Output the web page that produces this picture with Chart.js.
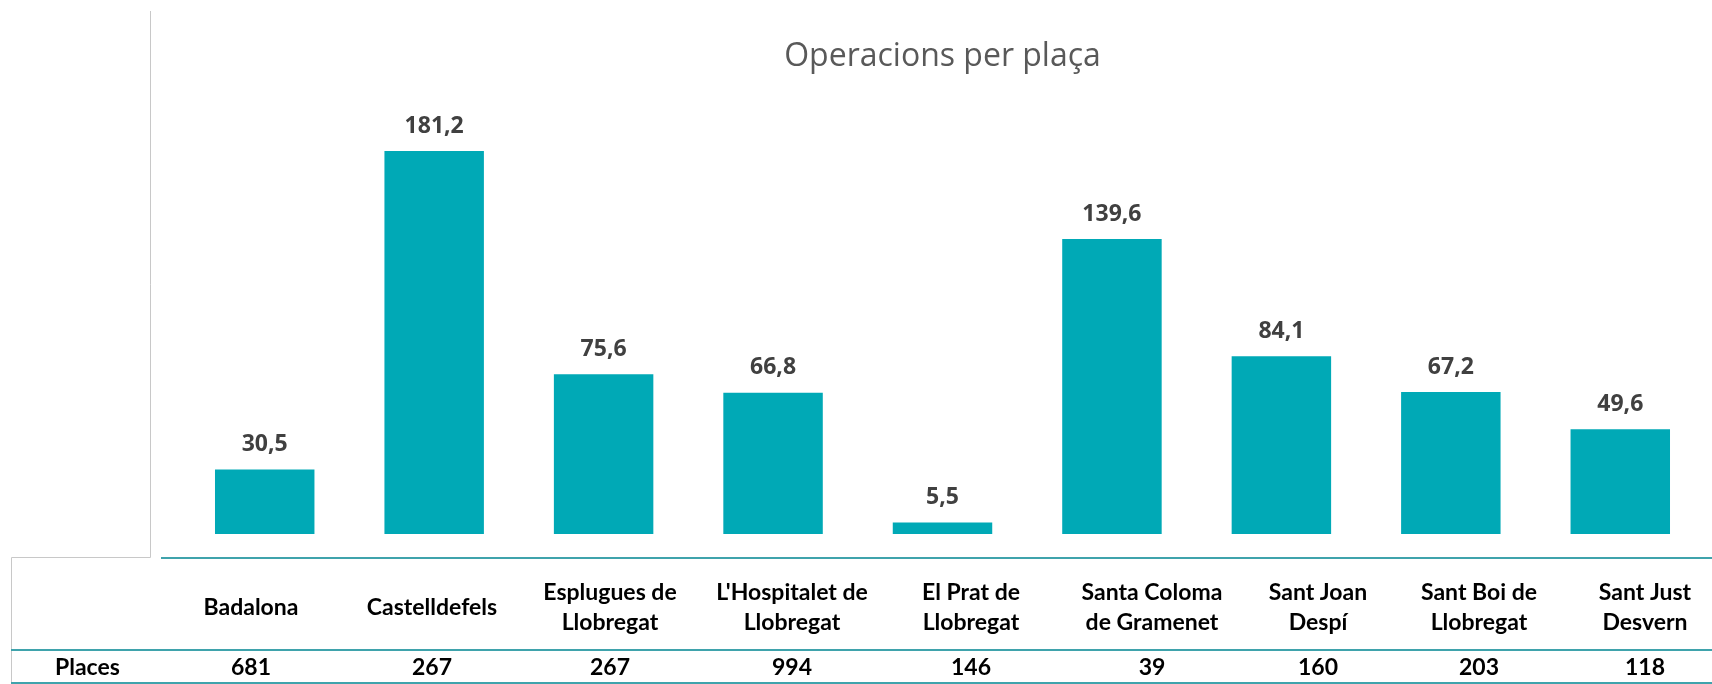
<!DOCTYPE html>
<html>
<head>
<meta charset="utf-8">
<script src="https://cdn.jsdelivr.net/npm/chart.js@4/dist/chart.umd.min.js"></script>
<style>
  html, body { margin: 0; padding: 0; background: #fff; }
  #wrap { width: 1712px; height: 684px; position: relative; }
</style>
</head>
<body>
<div id="wrap"><canvas id="chart"></canvas></div>
<script>
// categories (split in lines as in the table under the chart)
const categories = [
    ['Badalona'],
    ['Castelldefels'],
    ['Esplugues de', 'Llobregat'],
    ["L'Hospitalet de", 'Llobregat'],
    ['El Prat de', 'Llobregat'],
    ['Santa Coloma', 'de Gramenet'],
    ['Sant Joan', 'Despí'],
    ['Sant Boi de', 'Llobregat'],
    ['Sant Just', 'Desvern']
];
const operacionsPerPlaca = [30.5, 181.2, 75.6, 66.8, 5.5, 139.6, 84.1, 67.2, 49.6];
const places = [681, 267, 267, 994, 146, 39, 160, 203, 118];
const tableRowLabel = 'Places';

const tealBar = '#00a9b6';
const tealLine = '#3fa3ac';
const grayLine = '#c8c8c8';
const tableFont = 'bold 23px Lato, sans-serif';

function fmt(v) {
    return v.toFixed(1).replace('.', ',');
}

// value labels above the bars
const valueLabels = {
    id: 'valueLabels',
    afterDatasetsDraw(chart) {
        const ctx = chart.ctx;
        const meta = chart.getDatasetMeta(0);
        ctx.save();
        ctx.font = 'bold 23px "Open Sans", sans-serif';
        ctx.fillStyle = '#404040';
        ctx.textAlign = 'center';
        ctx.textBaseline = 'middle';
        meta.data.forEach((bar, i) => {
            ctx.fillText(fmt(operacionsPerPlaca[i]), bar.x, bar.y - 25);
        });
        ctx.restore();
    }
};

// data table under the chart (its cells are not aligned to the bars,
// the table is a separate sheet range with its own column widths)
const dataTable = {
    id: 'dataTable',
    afterDraw(chart, args, opts) {
        const ctx = chart.ctx;
        const w = chart.width;
        const cols = opts.colCenters;
        ctx.save();

        // gray frame lines
        ctx.strokeStyle = grayLine;
        ctx.lineWidth = 1;
        ctx.beginPath();
        ctx.moveTo(150.5, 11);
        ctx.lineTo(150.5, 557.5);
        ctx.lineTo(11.5, 557.5);
        ctx.lineTo(11.5, 684);
        ctx.stroke();

        // teal row lines
        ctx.strokeStyle = tealLine;
        ctx.lineWidth = 2;
        ctx.beginPath();
        ctx.moveTo(161, 558);
        ctx.lineTo(w, 558);
        ctx.moveTo(11, 650);
        ctx.lineTo(w, 650);
        ctx.moveTo(11, 683);
        ctx.lineTo(w, 683);
        ctx.stroke();

        ctx.font = tableFont;
        ctx.fillStyle = '#000';
        ctx.textBaseline = 'middle';
        ctx.textAlign = 'center';
        categories.forEach((lines, i) => {
            const cx = cols[i];
            if (lines.length === 1) {
                ctx.fillText(lines[0], cx, 608);
            } else {
                ctx.fillText(lines[0], cx, 593);
                ctx.fillText(lines[1], cx, 623);
            }
            ctx.fillText(String(places[i]), cx, 668);
        });
        ctx.textAlign = 'left';
        ctx.fillText(tableRowLabel, 55, 668);
        ctx.restore();
    }
};

const ctx = document.getElementById('chart').getContext('2d');
new Chart(ctx, {
    type: 'bar',
    data: {
        labels: categories.map(c => c.join(' ')),
        datasets: [{
            label: 'Operacions per plaça',
            data: operacionsPerPlaca,
            backgroundColor: tealBar,
            borderWidth: 0,
            categoryPercentage: 1,
            barPercentage: 0.587
        }]
    },
    options: {
        responsive: true,
        maintainAspectRatio: false,
        animation: false,
        layout: {
            padding: { left: 180, right: 7, top: 0, bottom: 150 }
        },
        scales: {
            x: { display: false },
            y: { display: false, min: 0, max: 200 }
        },
        plugins: {
            legend: { display: false },
            tooltip: { enabled: false },
            title: {
                display: true,
                text: 'Operacions per plaça',
                color: '#595959',
                font: { family: '"Open Sans", sans-serif', size: 32, weight: 'normal' },
                padding: { top: 38, bottom: 35 }
            },
            dataTable: {
                colCenters: [251, 432, 610, 792, 971, 1152, 1318, 1479, 1645]
            }
        }
    },
    plugins: [valueLabels, dataTable]
});
</script>
</body>
</html>
